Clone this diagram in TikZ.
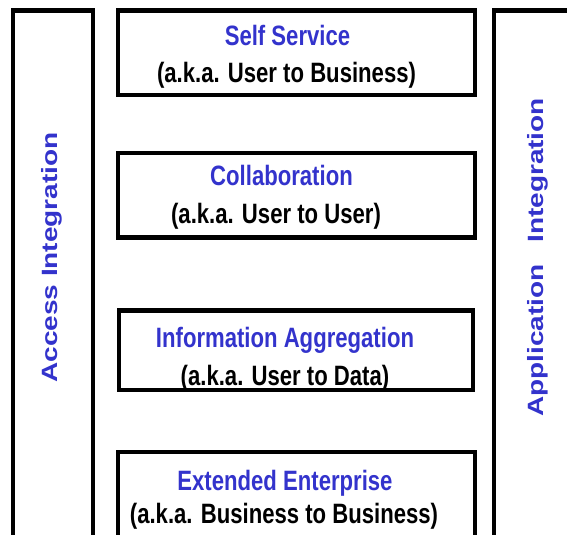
\documentclass[tikz,border=0pt]{standalone}
\usepackage{fontspec}
\setmainfont{Liberation Sans}
\definecolor{layerblue}{RGB}{51,51,204}
\tikzset{
  frame/.style={draw=black, line width=4.5pt},
  heading/.style={text=layerblue, font=\fontsize{28}{32}\selectfont\bfseries, inner sep=0pt, anchor=base, xscale=0.79},
  aka/.style={text=black, font=\fontsize{28}{32}\selectfont\bfseries, inner sep=0pt, anchor=base, xscale=0.79},
}

\begin{document}
\begin{tikzpicture}[scale=0.35146]
				\useasboundingbox (0,0) rectangle (56.7,-53.4);
				\clip (0,0) rectangle (56.7,-53.4);
				% side bars
				\draw [frame] (1.3,-1.05) rectangle (9.3,-60);
				\draw [frame] (49.4,-1.05) rectangle (62,-60);
				\node (accesslabel) [heading, rotate=90] at (5.7,-25.75) {Access Integration};
				\node (applabel) [heading, rotate=90] at (54.3,-25.75) {Application\hspace{0.78em}Integration};
				% layers
				\draw [frame] (11.8,-1.05) rectangle (47.5,-9.5);
				\node (selfhead) [heading] at (28.75,-4.5) {Self Service};
				\node (selfaka) [aka] at (28.65,-8.2) {(a.k.a. User to Business)};
				\draw [frame] (11.8,-15.3) rectangle (47.5,-23.75);
				\node (collabhead) [heading] at (28.15,-18.5) {Collaboration};
				\node (collabaka) [aka] at (27.6,-22.3) {(a.k.a. User to User)};
				\draw [frame] (11.9,-31.05) rectangle (47.3,-39.0);
				\node (infohead) [heading] at (28.5,-34.7) {Information Aggregation};
				\node (infoaka) [aka] at (28.5,-38.5) {(a.k.a. User to Data)};
				\draw [frame] (11.8,-45.2) rectangle (47.5,-60);
				\node (exthead) [heading] at (28.5,-49.0) {Extended Enterprise};
				\node (extaka) [aka] at (28.4,-52.3) {(a.k.a. Business to Business)};
\end{tikzpicture}
\end{document}
